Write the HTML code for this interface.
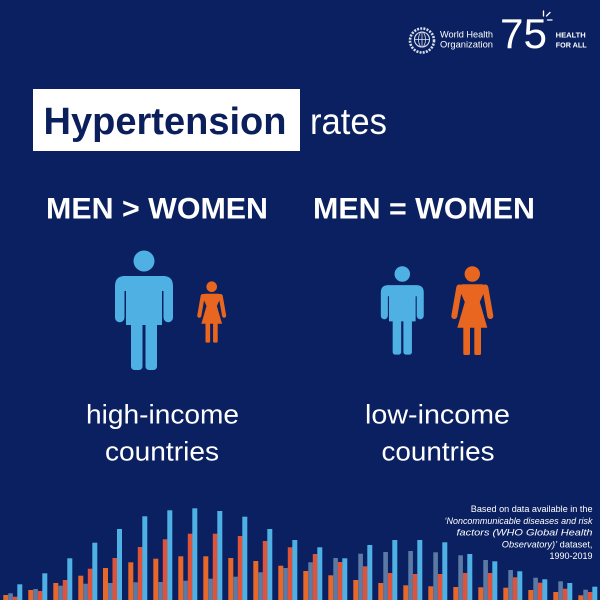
<!DOCTYPE html>
<html><head><meta charset="utf-8"><style>
html,body{margin:0;padding:0;background:#0a2060;}
svg{display:block;}
text{font-family:"Liberation Sans",Arial,sans-serif;}
</style></head><body>
<svg width="600" height="600" viewBox="0 0 600 600" xmlns="http://www.w3.org/2000/svg">
<rect width="600" height="600" fill="#0a2060"/>

<!-- WHO logo -->
<g fill="none" stroke="#d8deea">
<circle cx="422" cy="40.5" r="12" stroke-width="2.6" stroke-dasharray="2 1.2"/>
<circle cx="422" cy="39.5" r="7.5" stroke-width="1.1"/>
<line x1="414.5" y1="39.5" x2="429.5" y2="39.5" stroke-width="0.8"/>
<line x1="422" y1="32" x2="422" y2="47" stroke-width="0.8"/>
<ellipse cx="422" cy="39.5" rx="3.5" ry="7.5" stroke-width="0.8"/>
</g>
<text x="440" y="37.7" font-size="9" fill="#fff" textLength="53" lengthAdjust="spacingAndGlyphs">World Health</text>
<text x="440" y="47.3" font-size="9" fill="#fff" textLength="53" lengthAdjust="spacingAndGlyphs">Organization</text>
<text x="500" y="48" font-size="42" fill="#fff" textLength="47" lengthAdjust="spacingAndGlyphs">75</text>
<g stroke="#fff" stroke-width="1.3" stroke-linecap="round">
<line x1="543.5" y1="11" x2="543.5" y2="16"/>
<line x1="546.5" y1="16" x2="550" y2="12.5"/>
<line x1="547.5" y1="20" x2="552" y2="20"/>
</g>
<text x="555.7" y="37.7" font-size="7.5" font-weight="bold" fill="#fff" textLength="30" lengthAdjust="spacingAndGlyphs">HEALTH</text>
<text x="555.7" y="47.3" font-size="7.5" font-weight="bold" fill="#fff" textLength="31" lengthAdjust="spacingAndGlyphs">FOR ALL</text>

<!-- Title -->
<rect x="33" y="89" width="267" height="62" fill="#fff"/>
<text x="43.5" y="134" font-size="38" font-weight="bold" fill="#0b1f5c" textLength="243" lengthAdjust="spacingAndGlyphs">Hypertension</text>
<text x="310" y="134" font-size="37" fill="#fff" textLength="77" lengthAdjust="spacingAndGlyphs">rates</text>

<text x="46" y="218.3" font-size="30" font-weight="bold" fill="#fff" textLength="222" lengthAdjust="spacingAndGlyphs">MEN &gt; WOMEN</text>
<text x="313" y="218.3" font-size="30" font-weight="bold" fill="#fff" textLength="222" lengthAdjust="spacingAndGlyphs">MEN = WOMEN</text>

<defs>
<g id="man" fill="#4fb1e3">
<circle cx="0" cy="0" r="10.5"/>
<path d="M -29,56.5 L -29,25 Q -29,15 -19,15 L 19,15 Q 29,15 29,25 L 29,56.5 A 4.75 4.75 0 0 1 19.5,56.5 L 19.5,30 L -19.5,30 L -19.5,56.5 A 4.75 4.75 0 0 1 -29,56.5 Z"/>
<rect x="-18" y="20" width="36" height="44"/>
<rect x="-13" y="55" width="11.5" height="54" rx="3.5"/>
<rect x="1.5" y="55" width="11.5" height="54" rx="3.5"/>
</g>
<g id="woman" fill="#e8661f">
<circle cx="0" cy="0" r="7.7"/>
<path d="M -9,10.3 L 9,10.3 Q 13,10.3 13.8,14 L 7.5,28 L 15,53.7 L -15,53.7 L -7.5,28 L -13.8,14 Q -13,10.3 -9,10.3 Z"/>
<line x1="13" y1="13.5" x2="18" y2="42" stroke="#e8661f" stroke-width="6" stroke-linecap="round"/>
<line x1="-13" y1="13.5" x2="-18" y2="42" stroke="#e8661f" stroke-width="6" stroke-linecap="round"/>
<rect x="-9" y="50" width="6.7" height="31" rx="1.5"/>
<rect x="2" y="50" width="6.7" height="31" rx="1.5"/>
</g>
</defs>

<use href="#man" transform="translate(144,261)"/>
<use href="#woman" transform="translate(211.7,286.7) scale(0.69)"/>
<use href="#man" transform="translate(402.3,274) scale(0.74)"/>
<use href="#woman" transform="translate(472.3,274)"/>

<!-- Income labels -->
<text x="162.5" y="423.3" font-size="27" fill="#fff" text-anchor="middle" textLength="153" lengthAdjust="spacingAndGlyphs">high-income</text>
<text x="162" y="460.7" font-size="27" fill="#fff" text-anchor="middle" textLength="114" lengthAdjust="spacingAndGlyphs">countries</text>
<text x="437.5" y="423.3" font-size="27" fill="#fff" text-anchor="middle" textLength="145" lengthAdjust="spacingAndGlyphs">low-income</text>
<text x="438" y="460.7" font-size="27" fill="#fff" text-anchor="middle" textLength="113" lengthAdjust="spacingAndGlyphs">countries</text>

<!-- Bars -->
<g>
<g transform="translate(3.3,0)"><rect x="0" y="595" width="5" height="5" fill="#e8682a"/><rect x="5" y="593.3" width="4.6" height="6.7" fill="#5b7ba6"/><rect x="9.5" y="596.7" width="4.6" height="3.3" fill="#e0533b"/><rect x="14" y="584.3" width="5" height="15.7" fill="#4fb1e3"/></g>
<g transform="translate(28.3,0)"><rect x="0" y="590" width="5" height="10" fill="#e8682a"/><rect x="5" y="589" width="4.6" height="11" fill="#5b7ba6"/><rect x="9.5" y="591" width="4.6" height="9" fill="#e0533b"/><rect x="14" y="573.3" width="5" height="26.7" fill="#4fb1e3"/></g>
<g transform="translate(53.3,0)"><rect x="0" y="583" width="5" height="17" fill="#e8682a"/><rect x="5" y="585.7" width="4.6" height="14.3" fill="#5b7ba6"/><rect x="9.5" y="580" width="4.6" height="20" fill="#e0533b"/><rect x="14" y="558.3" width="5" height="41.7" fill="#4fb1e3"/></g>
<g transform="translate(78.3,0)"><rect x="0" y="575.7" width="5" height="24.3" fill="#e8682a"/><rect x="5" y="583.7" width="4.6" height="16.3" fill="#5b7ba6"/><rect x="9.5" y="568.7" width="4.6" height="31.3" fill="#e0533b"/><rect x="14" y="542.7" width="5" height="57.3" fill="#4fb1e3"/></g>
<g transform="translate(103,0)"><rect x="0" y="568" width="5" height="32" fill="#e8682a"/><rect x="5" y="583" width="4.6" height="17" fill="#5b7ba6"/><rect x="9.5" y="558" width="4.6" height="42" fill="#e0533b"/><rect x="14" y="529" width="5" height="71" fill="#4fb1e3"/></g>
<g transform="translate(128.3,0)"><rect x="0" y="562.3" width="5" height="37.7" fill="#e8682a"/><rect x="5" y="582.3" width="4.6" height="17.7" fill="#5b7ba6"/><rect x="9.5" y="547" width="4.6" height="53" fill="#e0533b"/><rect x="14" y="516.3" width="5" height="83.7" fill="#4fb1e3"/></g>
<g transform="translate(153.3,0)"><rect x="0" y="558.7" width="5" height="41.3" fill="#e8682a"/><rect x="5" y="582" width="4.6" height="18" fill="#5b7ba6"/><rect x="9.5" y="539.3" width="4.6" height="60.7" fill="#e0533b"/><rect x="14" y="510.3" width="5" height="89.7" fill="#4fb1e3"/></g>
<g transform="translate(178.3,0)"><rect x="0" y="556.3" width="5" height="43.7" fill="#e8682a"/><rect x="5" y="580.7" width="4.6" height="19.3" fill="#5b7ba6"/><rect x="9.5" y="533.7" width="4.6" height="66.3" fill="#e0533b"/><rect x="14" y="508.3" width="5" height="91.7" fill="#4fb1e3"/></g>
<g transform="translate(203.3,0)"><rect x="0" y="556.3" width="5" height="43.7" fill="#e8682a"/><rect x="5" y="578.7" width="4.6" height="21.3" fill="#5b7ba6"/><rect x="9.5" y="533.7" width="4.6" height="66.3" fill="#e0533b"/><rect x="14" y="511" width="5" height="89" fill="#4fb1e3"/></g>
<g transform="translate(228.3,0)"><rect x="0" y="558" width="5" height="42" fill="#e8682a"/><rect x="5" y="576.7" width="4.6" height="23.3" fill="#5b7ba6"/><rect x="9.5" y="536" width="4.6" height="64" fill="#e0533b"/><rect x="14" y="516.7" width="5" height="83.3" fill="#4fb1e3"/></g>
<g transform="translate(253.3,0)"><rect x="0" y="561" width="5" height="39" fill="#e8682a"/><rect x="5" y="572.3" width="4.6" height="27.7" fill="#5b7ba6"/><rect x="9.5" y="541" width="4.6" height="59" fill="#e0533b"/><rect x="14" y="529" width="5" height="71" fill="#4fb1e3"/></g>
<g transform="translate(278.3,0)"><rect x="0" y="565.7" width="5" height="34.3" fill="#e8682a"/><rect x="5" y="568" width="4.6" height="32" fill="#5b7ba6"/><rect x="9.5" y="547.3" width="4.6" height="52.7" fill="#e0533b"/><rect x="14" y="540" width="5" height="60" fill="#4fb1e3"/></g>
<g transform="translate(303.3,0)"><rect x="0" y="571" width="5" height="29" fill="#e8682a"/><rect x="5" y="562.3" width="4.6" height="37.7" fill="#5b7ba6"/><rect x="9.5" y="554" width="4.6" height="46" fill="#e0533b"/><rect x="14" y="547.3" width="5" height="52.7" fill="#4fb1e3"/></g>
<g transform="translate(328.3,0)"><rect x="0" y="575.3" width="5" height="24.7" fill="#e8682a"/><rect x="5" y="558" width="4.6" height="42" fill="#5b7ba6"/><rect x="9.5" y="562" width="4.6" height="38" fill="#e0533b"/><rect x="14" y="558.3" width="5" height="41.7" fill="#4fb1e3"/></g>
<g transform="translate(353.3,0)"><rect x="0" y="580" width="5" height="20" fill="#e8682a"/><rect x="5" y="553.7" width="4.6" height="46.3" fill="#5b7ba6"/><rect x="9.5" y="566.3" width="4.6" height="33.7" fill="#e0533b"/><rect x="14" y="545" width="5" height="55" fill="#4fb1e3"/></g>
<g transform="translate(378.3,0)"><rect x="0" y="583" width="5" height="17" fill="#e8682a"/><rect x="5" y="552" width="4.6" height="48" fill="#5b7ba6"/><rect x="9.5" y="573" width="4.6" height="27" fill="#e0533b"/><rect x="14" y="540" width="5" height="60" fill="#4fb1e3"/></g>
<g transform="translate(403.3,0)"><rect x="0" y="585.3" width="5" height="14.7" fill="#e8682a"/><rect x="5" y="551" width="4.6" height="49" fill="#5b7ba6"/><rect x="9.5" y="574" width="4.6" height="26" fill="#e0533b"/><rect x="14" y="540" width="5" height="60" fill="#4fb1e3"/></g>
<g transform="translate(428.3,0)"><rect x="0" y="586.3" width="5" height="13.7" fill="#e8682a"/><rect x="5" y="552.3" width="4.6" height="47.7" fill="#5b7ba6"/><rect x="9.5" y="574" width="4.6" height="26" fill="#e0533b"/><rect x="14" y="542.3" width="5" height="57.7" fill="#4fb1e3"/></g>
<g transform="translate(453.3,0)"><rect x="0" y="587" width="5" height="13" fill="#e8682a"/><rect x="5" y="555.3" width="4.6" height="44.7" fill="#5b7ba6"/><rect x="9.5" y="573" width="4.6" height="27" fill="#e0533b"/><rect x="14" y="554" width="5" height="46" fill="#4fb1e3"/></g>
<g transform="translate(478.3,0)"><rect x="0" y="587.3" width="5" height="12.7" fill="#e8682a"/><rect x="5" y="560" width="4.6" height="40" fill="#5b7ba6"/><rect x="9.5" y="573" width="4.6" height="27" fill="#e0533b"/><rect x="14" y="561.3" width="5" height="38.7" fill="#4fb1e3"/></g>
<g transform="translate(503.3,0)"><rect x="0" y="587.7" width="5" height="12.3" fill="#e8682a"/><rect x="5" y="570" width="4.6" height="30" fill="#5b7ba6"/><rect x="9.5" y="577.3" width="4.6" height="22.7" fill="#e0533b"/><rect x="14" y="571.3" width="5" height="28.7" fill="#4fb1e3"/></g>
<g transform="translate(528.3,0)"><rect x="0" y="590" width="5" height="10" fill="#e8682a"/><rect x="5" y="577.7" width="4.6" height="22.3" fill="#5b7ba6"/><rect x="9.5" y="582.7" width="4.6" height="17.3" fill="#e0533b"/><rect x="14" y="579.3" width="5" height="20.7" fill="#4fb1e3"/></g>
<g transform="translate(553.3,0)"><rect x="0" y="592" width="5" height="8" fill="#e8682a"/><rect x="5" y="581.3" width="4.6" height="18.7" fill="#5b7ba6"/><rect x="9.5" y="588.7" width="4.6" height="11.3" fill="#e0533b"/><rect x="14" y="583" width="5" height="17" fill="#4fb1e3"/></g>
<g transform="translate(578.3,0)"><rect x="0" y="595.3" width="5" height="4.7" fill="#e8682a"/><rect x="5" y="589.7" width="4.6" height="10.3" fill="#5b7ba6"/><rect x="9.5" y="592" width="4.6" height="8" fill="#e0533b"/><rect x="14" y="586.7" width="5" height="13.3" fill="#4fb1e3"/></g>
</g>

<!-- Footnote -->
<g font-size="9" fill="#fff" text-anchor="end">
<text x="592.5" y="512" textLength="121.7" lengthAdjust="spacingAndGlyphs">Based on data available in the</text>
<text x="592.5" y="523.8" font-style="italic" textLength="148" lengthAdjust="spacingAndGlyphs">‘Noncommunicable diseases and risk</text>
<text x="592.5" y="535.6" font-style="italic" textLength="136" lengthAdjust="spacingAndGlyphs">factors (WHO Global Health</text>
<text x="592.5" y="547.4" textLength="90.7" lengthAdjust="spacingAndGlyphs"><tspan font-style="italic">Observatory)’</tspan> dataset,</text>
<text x="592.5" y="559.2" textLength="43" lengthAdjust="spacingAndGlyphs">1990-2019</text>
</g>
</svg>
</body></html>
